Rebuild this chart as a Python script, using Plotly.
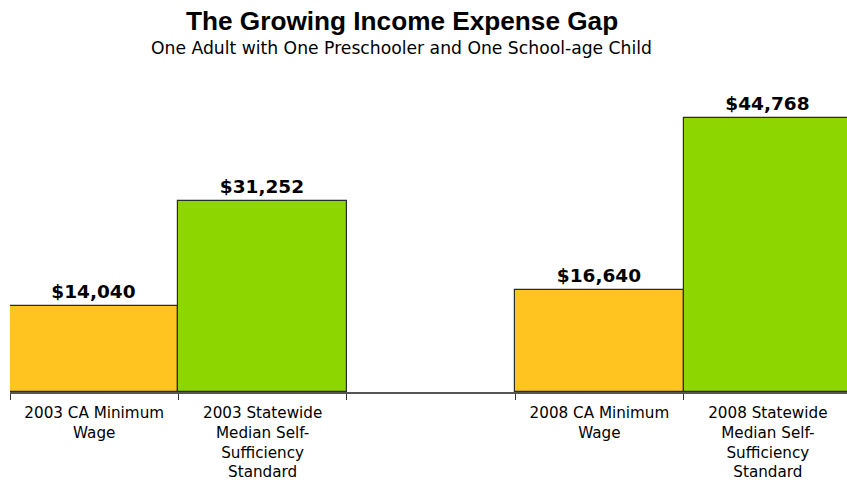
import plotly.graph_objects as go

categories = [
    "2003 CA Minimum<br>Wage",
    "2003 Statewide<br>Median Self-<br>Sufficiency<br>Standard",
    " ",
    "2008 CA Minimum<br>Wage",
    "2008 Statewide<br>Median Self-<br>Sufficiency<br>Standard",
]
values = [14040, 31252, None, 16640, 44768]
labels = ["$14,040", "$31,252", "", "$16,640", "$44,768"]
bar_colors = ["#FFC41F", "#8ED600", "#FFFFFF", "#FFC41F", "#8ED600"]

ARIAL = "Liberation Sans, Arial, sans-serif"
WIDE = "DejaVu Sans, Verdana, sans-serif"

fig = go.Figure(
    go.Bar(
        x=categories,
        y=values,
        text=[f"<b>{t}</b>" if t else "" for t in labels],
        textposition="outside",
        textfont=dict(family=WIDE, size=18.5, color="#000000"),
        marker=dict(color=bar_colors, line=dict(color="#2b2b2b", width=1.2)),
        cliponaxis=False,
        hoverinfo="skip",
    )
)

fig.update_layout(
    width=847,
    height=482,
    margin=dict(l=10, r=0, t=86, b=90, autoexpand=False),
    paper_bgcolor="white",
    plot_bgcolor="white",
    bargap=0,
    showlegend=False,
    font=dict(family=ARIAL, color="#000000"),
    annotations=[
        dict(
            text="<b>The Growing Income Expense Gap</b>",
            xref="paper", yref="paper",
            x=0.468, y=1, yshift=65,
            xanchor="center", yanchor="middle",
            showarrow=False,
            font=dict(family=ARIAL, size=26.2, color="#000000"),
        ),
        dict(
            text="One Adult with One Preschooler and One School-age Child",
            xref="paper", yref="paper",
            x=0.468, y=1, yshift=38,
            xanchor="center", yanchor="middle",
            showarrow=False,
            font=dict(family=WIDE, size=17.2, color="#000000"),
        ),
    ],
)

fig.update_xaxes(
    type="category",
    range=[-0.5, 4.47],
    automargin=False,
    showline=True,
    linecolor="#555555",
    linewidth=1.5,
    ticks="outside",
    tickson="boundaries",
    ticklen=6,
    tickcolor="#333333",
    ticklabelstandoff=6,
    tickfont=dict(family=WIDE, size=15.2, color="#000000"),
    showgrid=False,
    zeroline=False,
)
fig.update_yaxes(
    range=[0, 50000],
    visible=False,
    automargin=False,
    showgrid=False,
    zeroline=False,
)

fig.write_html(
    "out.html",
    config={"displayModeBar": False},
    post_script="document.body.style.margin='0px';",
)
